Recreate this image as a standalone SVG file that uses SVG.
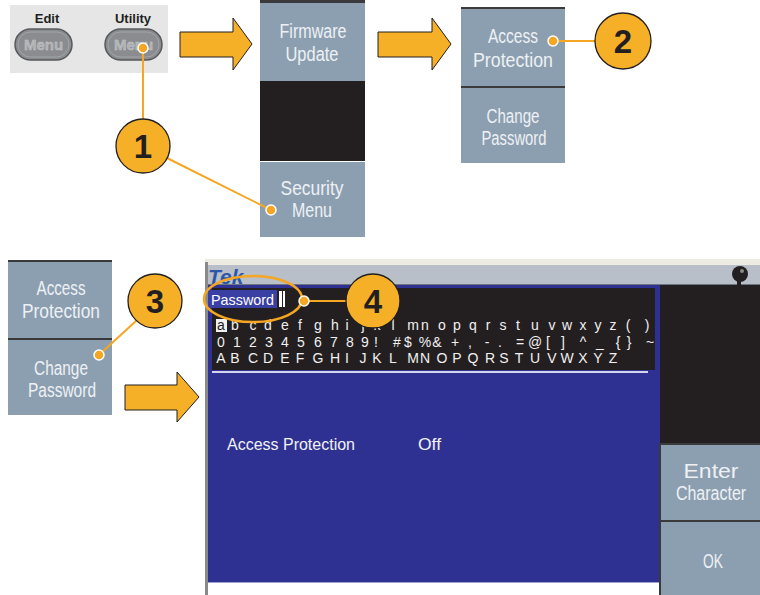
<svg xmlns="http://www.w3.org/2000/svg" width="760" height="595" viewBox="0 0 760 595">
<style>
.menu{fill:#8c9fb1}
.sep{stroke:#3a3a3c;stroke-width:2}
.lbl{font-family:"Liberation Sans",Arial,sans-serif;font-size:20px;fill:#eef1f4;text-anchor:middle}
.scr{font-family:"Liberation Sans",Arial,sans-serif;font-size:16px;fill:#f2f2f2}
.grid{font-family:"Liberation Sans",Arial,sans-serif;font-size:14px;fill:#f0f0f0;text-anchor:middle}
.arrow{fill:#f5b027;stroke:#231f20;stroke-width:1}
.callout{fill:#f5b027;stroke:#231f20;stroke-width:1.3}
.num{font-family:"Liberation Sans",Arial,sans-serif;font-weight:bold;font-size:33px;fill:#231f20;text-anchor:middle}
.lead{stroke:#f5a623;stroke-width:2;fill:none}
.dot{fill:#f5a623;stroke:#ffffff;stroke-width:1.5}
.btn{fill:#8a8c8f;stroke:#58595b;stroke-width:1.5}
.btntxt{font-family:"Liberation Sans",Arial,sans-serif;font-weight:bold;font-size:15px;fill:#aeb0b3;stroke:#c9cacc;stroke-width:0.4;text-anchor:middle}
.hdr{font-family:"Liberation Sans",Arial,sans-serif;font-weight:bold;font-size:13px;fill:#231f20;text-anchor:middle}
</style>
<rect width="760" height="595" fill="#ffffff"/>

<g id="front-panel">
<rect x="10" y="5" width="158" height="68" fill="#e6e6e7"/>
<text class="hdr" x="47" y="23">Edit</text>
<text class="hdr" x="133" y="23">Utility</text>
<rect class="btn" x="15" y="29" width="57" height="31" rx="15.5"/>
<rect x="18" y="32" width="51" height="25" rx="12.5" fill="none" stroke="#a3a5a8" stroke-width="1"/>
<text class="btntxt" x="43.5" y="50">Menu</text>
<rect class="btn" x="105" y="29" width="57" height="31" rx="15.5"/>
<rect x="108" y="32" width="51" height="25" rx="12.5" fill="none" stroke="#a3a5a8" stroke-width="1"/>
<text class="btntxt" x="133.5" y="50">Menu</text>
</g>

<g id="arrows">
<polygon class="arrow" points="180,32 233,32 233,18 252,44 233,70 233,57 180,57"/>
<polygon class="arrow" points="378,32 432,32 432,18 451,44 432,70 432,57 378,57"/>
<polygon class="arrow" points="125,385 177,385 177,372 199,397 177,422 177,410 125,410"/>
</g>

<g id="menu-utility">
<rect x="260" y="0" width="105" height="3" fill="#3a3a3c"/>
<rect class="menu" x="260" y="3" width="105" height="78"/>
<rect x="260" y="81" width="105" height="80" fill="#231f20"/>
<rect class="menu" x="260" y="162" width="105" height="75"/>
<text class="lbl" x="313" y="38" textLength="67" lengthAdjust="spacingAndGlyphs">Firmware</text>
<text class="lbl" x="312" y="61" textLength="53" lengthAdjust="spacingAndGlyphs">Update</text>
<text class="lbl" x="312" y="195" textLength="63" lengthAdjust="spacingAndGlyphs">Security</text>
<text class="lbl" x="312" y="217" textLength="40" lengthAdjust="spacingAndGlyphs">Menu</text>
</g>

<g id="menu-security">
<line class="sep" x1="461" y1="8" x2="565" y2="8"/>
<rect class="menu" x="461" y="9" width="104" height="77"/>
<line class="sep" x1="461" y1="87" x2="565" y2="87"/>
<rect class="menu" x="461" y="88" width="104" height="75"/>
<text class="lbl" x="513" y="43" textLength="50" lengthAdjust="spacingAndGlyphs">Access</text>
<text class="lbl" x="513" y="67" textLength="80" lengthAdjust="spacingAndGlyphs">Protection</text>
<text class="lbl" x="513" y="123" textLength="53" lengthAdjust="spacingAndGlyphs">Change</text>
<text class="lbl" x="514" y="145" textLength="65" lengthAdjust="spacingAndGlyphs">Password</text>
</g>

<g id="menu-security-2">
<line class="sep" x1="8" y1="261" x2="112" y2="261"/>
<rect class="menu" x="8" y="262" width="104" height="76"/>
<line class="sep" x1="8" y1="339" x2="112" y2="339"/>
<rect class="menu" x="8" y="340" width="104" height="75"/>
<text class="lbl" x="61" y="295" textLength="49" lengthAdjust="spacingAndGlyphs">Access</text>
<text class="lbl" x="61" y="318" textLength="78" lengthAdjust="spacingAndGlyphs">Protection</text>
<text class="lbl" x="61" y="375" textLength="54" lengthAdjust="spacingAndGlyphs">Change</text>
<text class="lbl" x="62" y="397" textLength="68" lengthAdjust="spacingAndGlyphs">Password</text>
</g>

<g id="screen">
<rect x="205" y="259" width="555" height="7" fill="#eeebe3"/>
<rect x="207" y="265" width="553" height="20" fill="#b8bfc9"/>
<line x1="207" y1="284.5" x2="760" y2="284.5" stroke="#6f7580" stroke-width="1"/>
<text x="208" y="284" font-family="Liberation Sans,Arial,sans-serif" font-size="21" font-weight="bold" font-style="italic" fill="#2c57a6">Tek</text>
<circle cx="740" cy="274" r="8" fill="#231f20"/>
<rect x="737" y="280" width="4" height="5" fill="#231f20"/>
<circle cx="742" cy="271" r="2" fill="#8a8a8a"/>
<rect x="205" y="262" width="3" height="333" fill="#8a8a8a"/>
<rect x="208" y="285" width="452" height="297" fill="#2e3192"/>
<rect x="212" y="288" width="443" height="82" fill="#231f20"/>
<line x1="212" y1="372" x2="648" y2="372" stroke="#d4d6f0" stroke-width="2"/>
<rect x="208" y="582" width="452" height="13" fill="#ffffff"/>
<line x1="208" y1="582.5" x2="660" y2="582.5" stroke="#9aa0c8" stroke-width="1"/>
<rect x="208" y="290" width="69" height="18" fill="#3a3fa3"/>
<text x="211" y="305" font-family="Liberation Sans,Arial,sans-serif" font-size="15" fill="#ffffff" textLength="63" lengthAdjust="spacingAndGlyphs">Password</text>
<rect x="279" y="291" width="3" height="16" fill="#ffffff"/>
<rect x="283" y="291" width="2" height="16" fill="#ffffff"/>
<rect x="216" y="319" width="11" height="13" fill="#f0f0f0"/>
<text class="grid" y="330"><tspan x="221" fill="#231f20">a</tspan><tspan x="235 253 268 285 300 318 335 347 363 377 393 413 425 442 457 473 488 503 518 535 552 567 583 598 613 628 647">bcdefghijklmnopqrstuvwxyz()</tspan></text>
<text class="grid" y="347" x="221 237 253 269 285 301 318 334 350 365 376 397 408 425 437 455 470 487 500 520 535 548 563 583 600 618 629 650">0123456789!#$%&amp;+,-.=@[]^_{}~</text>
<text class="grid" y="363" x="221 235 253 268 285 300 318 335 347 363 377 393 413 425 442 457 473 490 504 519 535 552 567 583 598 613">ABCDEFGHIJKLMNOPQRSTUVWXYZ</text>
<text class="scr" x="227" y="450" textLength="128" lengthAdjust="spacingAndGlyphs">Access Protection</text>
<text class="scr" x="418" y="450" textLength="23" lengthAdjust="spacingAndGlyphs">Off</text>
<rect x="660" y="285" width="100" height="158" fill="#231f20"/>
<rect x="659" y="443" width="2" height="152" fill="#3a3a3c"/>
<line class="sep" x1="660" y1="444" x2="760" y2="444"/>
<rect class="menu" x="661" y="445" width="99" height="75"/>
<line class="sep" x1="660" y1="521" x2="760" y2="521"/>
<rect class="menu" x="661" y="522" width="99" height="73"/>
<text class="lbl" x="711" y="478" textLength="55" lengthAdjust="spacingAndGlyphs">Enter</text>
<text class="lbl" transform="translate(711,500) scale(0.8,1)" x="0" y="0">Character</text>
<text class="lbl" x="713" y="568" textLength="20" lengthAdjust="spacingAndGlyphs">OK</text>
</g>

<g id="connectors">
<line class="lead" x1="143" y1="48" x2="143" y2="119"/>
<line class="lead" x1="167" y1="158" x2="271" y2="210"/>
<line class="lead" x1="553" y1="41" x2="595" y2="41"/>
<line class="lead" x1="99" y1="355" x2="137" y2="320"/>
<line class="lead" x1="304" y1="301" x2="346" y2="301"/>
<ellipse cx="253" cy="299" rx="49" ry="23" fill="none" stroke="#f5a623" stroke-width="2.5"/>
<circle class="dot" cx="143" cy="48" r="5"/>
<circle class="dot" cx="271" cy="210" r="5"/>
<circle class="dot" cx="553" cy="41" r="5"/>
<circle class="dot" cx="99" cy="355" r="5"/>
<circle class="dot" cx="304" cy="301" r="5"/>
</g>

<g id="callout-1"><circle class="callout" cx="143" cy="146" r="27"/><text class="num" x="143" y="158">1</text></g>
<g id="callout-2"><circle class="callout" cx="623" cy="41" r="28"/><text class="num" x="623" y="53">2</text></g>
<g id="callout-3"><circle class="callout" cx="155" cy="301" r="27"/><text class="num" x="155" y="313">3</text></g>
<g id="callout-4"><circle class="callout" cx="373" cy="301" r="27"/><text class="num" x="373" y="313">4</text></g>
</svg>
